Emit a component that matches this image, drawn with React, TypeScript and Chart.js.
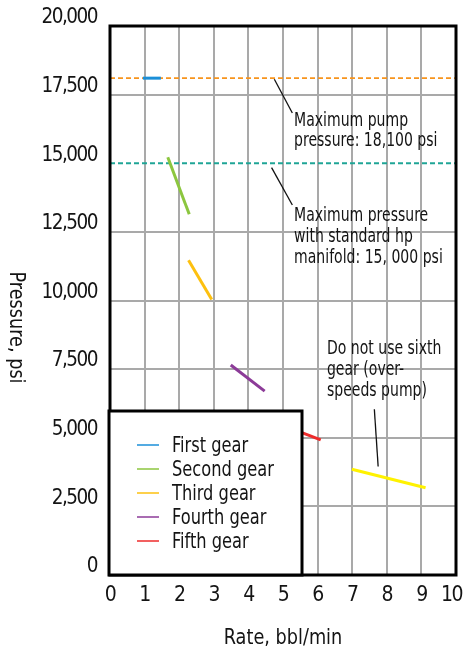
import React, { useEffect, useRef } from 'react';
import { Chart, registerables } from 'chart.js';
Chart.register(...registerables);

const FONT = '"DejaVu Sans Condensed", "DejaVu Sans", sans-serif';
const TEXT = '#141414';
const GRID = '#a9a9a9';

// Gears (line segments: rate in bbl/min, pressure in psi)
const gearLabels = ['First gear', 'Second gear', 'Third gear', 'Fourth gear', 'Fifth gear', 'Sixth gear'];
const gearColors = ['#1b8fd8', '#8cc63f', '#fdc00f', '#8c3b98', '#ee2b2b', '#fff200'];
const gearRateStart = [0.95, 1.67, 2.27, 3.49, 4.7, 6.99];
const gearRateEnd = [1.47, 2.29, 2.94, 4.47, 6.09, 9.12];
const gearPressureStart = [18100, 15220, 11470, 7650, 5600, 3850];
const gearPressureEnd = [18100, 13140, 10040, 6700, 4920, 3180];
const gearInLegend = [true, true, true, true, true, false];

// Pressure limits
const limitLabels = ['Maximum pump pressure', 'Maximum pressure with standard hp manifold'];
const limitPressures = [18100, 15000];
const limitColors = ['#f7941d', '#1fa596'];

// Axes
const xMin = 0;
const xMax = 10;
const xStep = 1;
const yMin = 0;
const yMax = 20000;
const yStep = 2500;
const xTitle = 'Rate, bbl/min';
const yTitle = 'Pressure, psi';

// Notes: text lines, text anchor (rate, psi), leader line (rate, psi) -> (rate, psi)
const pumpNote = ['Maximum pump', 'pressure: 18,100 psi'];
const pumpNoteAnchor = [5.32, 16360];
const pumpLeader = [4.75, 18060, 5.27, 16830];
const manifoldNote = ['Maximum pressure', 'with standard hp', 'manifold: 15, 000 psi'];
const manifoldNoteAnchor = [5.32, 12900];
const manifoldLeader = [4.67, 14840, 5.27, 13480];
const sixthNote = ['Do not use sixth', 'gear (over-', 'speeds pump)'];
const sixthNoteAnchor = [6.27, 8050];
const sixthLeader = [7.64, 6040, 7.75, 3950];

function fillScaled(ctx: CanvasRenderingContext2D, text: string, x: number, y: number, sx: number) {
  ctx.save();
  ctx.translate(x, y);
  ctx.scale(sx, 1);
  ctx.fillText(text, 0, 0);
  ctx.restore();
}

const notesPlugin = {
  id: 'notes',
  beforeDraw(chart: any) {
    (chart.ctx as any).letterSpacing = '-1.5px';
  },
  afterDatasetsDraw(chart: any) {
    const { ctx, chartArea, scales } = chart;
    const xs = scales.x;
    const ys = scales.y;
    ctx.save();
    ctx.letterSpacing = '0px';

    // plot frame
    ctx.strokeStyle = '#000';
    ctx.lineWidth = 3;
    ctx.strokeRect(chartArea.left, chartArea.top, chartArea.right - chartArea.left, chartArea.bottom - chartArea.top);

    // leader lines
    ctx.lineWidth = 1.3;
    ctx.strokeStyle = '#111';
    [pumpLeader, manifoldLeader, sixthLeader].forEach((l) => {
      ctx.beginPath();
      ctx.moveTo(xs.getPixelForValue(l[0]), ys.getPixelForValue(l[1]));
      ctx.lineTo(xs.getPixelForValue(l[2]), ys.getPixelForValue(l[3]));
      ctx.stroke();
    });

    // note texts
    ctx.fillStyle = TEXT;
    ctx.font = `19.5px ${FONT}`;
    ctx.textAlign = 'left';
    ctx.textBaseline = 'alphabetic';
    const drawNote = (lines: string[], anchor: number[], lh: number) => {
      const x = xs.getPixelForValue(anchor[0]);
      const y = ys.getPixelForValue(anchor[1]);
      lines.forEach((t, i) => fillScaled(ctx, t, x, y + i * lh, 0.8));
    };
    drawNote(pumpNote, pumpNoteAnchor, 20);
    drawNote(manifoldNote, manifoldNoteAnchor, 21);
    drawNote(sixthNote, sixthNoteAnchor, 21);

    // legend box
    const bx = chartArea.left - 1;
    const by = chartArea.bottom - 164;
    const bw = 193;
    const bh = 164;
    ctx.fillStyle = '#fff';
    ctx.fillRect(bx, by, bw, bh);
    ctx.strokeStyle = '#000';
    ctx.lineWidth = 3;
    ctx.strokeRect(bx, by, bw, bh);
    ctx.font = `21.5px ${FONT}`;
    let row = 0;
    chart.data.datasets.forEach((ds: any) => {
      if (!ds.inLegend) return;
      const baseY = by + 41 + row * 24;
      ctx.strokeStyle = ds.borderColor;
      ctx.lineWidth = 1.5;
      ctx.beginPath();
      ctx.moveTo(bx + 28, baseY - 7);
      ctx.lineTo(bx + 50, baseY - 7);
      ctx.stroke();
      ctx.fillStyle = TEXT;
      fillScaled(ctx, ds.label, bx + 63, baseY, 0.84);
      row++;
    });

    // axis titles
    ctx.fillStyle = TEXT;
    ctx.font = `21.5px ${FONT}`;
    ctx.textAlign = 'center';
    ctx.textBaseline = 'alphabetic';
    fillScaled(ctx, xTitle, (chartArea.left + chartArea.right) / 2, chart.height - 6, 0.915);
    ctx.save();
    ctx.translate(10, (chartArea.top + chartArea.bottom) / 2 + 27);
    ctx.rotate(Math.PI / 2);
    fillScaled(ctx, yTitle, 0, 0, 0.915);
    ctx.restore();

    ctx.restore();
  },
};

export default function App() {
  const ref = useRef<HTMLCanvasElement>(null);
  useEffect(() => {
    document.body.style.margin = '0';
    const datasets: any[] = [];
    // gears first so they are drawn on top of the limit lines
    gearLabels.forEach((g, i) => {
      datasets.push({
        label: g,
        data: [
          { x: gearRateStart[i], y: gearPressureStart[i] },
          { x: gearRateEnd[i], y: gearPressureEnd[i] },
        ],
        borderColor: gearColors[i],
        borderWidth: 3,
        pointRadius: 0,
        inLegend: gearInLegend[i],
      });
    });
    limitPressures.forEach((p, i) => {
      datasets.push({
        label: limitLabels[i],
        data: [
          { x: xMin, y: p },
          { x: xMax, y: p },
        ],
        borderColor: limitColors[i],
        borderWidth: 1.8,
        borderDash: [5, 3],
        pointRadius: 0,
        inLegend: false,
      });
    });
    const chart = new Chart(ref.current!, {
      type: 'line',
      data: { datasets },
      options: {
        responsive: false,
        animation: false,
        layout: { padding: { left: 0, top: 26, right: 7, bottom: 0 } },
        plugins: { legend: { display: false }, tooltip: { enabled: false } },
        scales: {
          x: {
            type: 'linear',
            min: xMin,
            max: xMax,
            ticks: {
              stepSize: xStep,
              autoSkip: false,
              color: TEXT,
              font: { family: FONT, size: 21 },
              padding: 8,
              maxRotation: 0,
              // the last label is nudged left so it stays inside the frame, as in the original
              callback: (v: any) => (Number(v) === xMax ? `${v}  ` : `${v}`),
            },
            grid: { color: GRID, lineWidth: 2, drawTicks: false },
            border: { display: false },
            afterFit: (s: any) => {
              s.height = 75;
              s.paddingLeft = 0;
              s.paddingRight = 0;
            },
          },
          y: {
            type: 'linear',
            min: yMin,
            max: yMax,
            ticks: {
              stepSize: yStep,
              autoSkip: false,
              color: TEXT,
              font: { family: FONT, size: 20.5 },
              padding: 13,
              labelOffset: -8,
              callback: (v: any) => Number(v).toLocaleString('en-US'),
            },
            grid: {
              color: (c: any) => (c.tick && limitPressures.includes(c.tick.value) ? 'rgba(0,0,0,0)' : GRID),
              lineWidth: 2,
              drawTicks: false,
            },
            border: { display: false },
            afterFit: (s: any) => {
              s.width = 110;
              s.paddingTop = 0;
              s.paddingBottom = 0;
            },
          },
        },
      },
      plugins: [notesPlugin],
    });
    return () => chart.destroy();
  }, []);
  return (
    <div style={{ width: 463, height: 650 }}>
      <canvas ref={ref} width={463} height={650} style={{ display: 'block' }} />
    </div>
  );
}
